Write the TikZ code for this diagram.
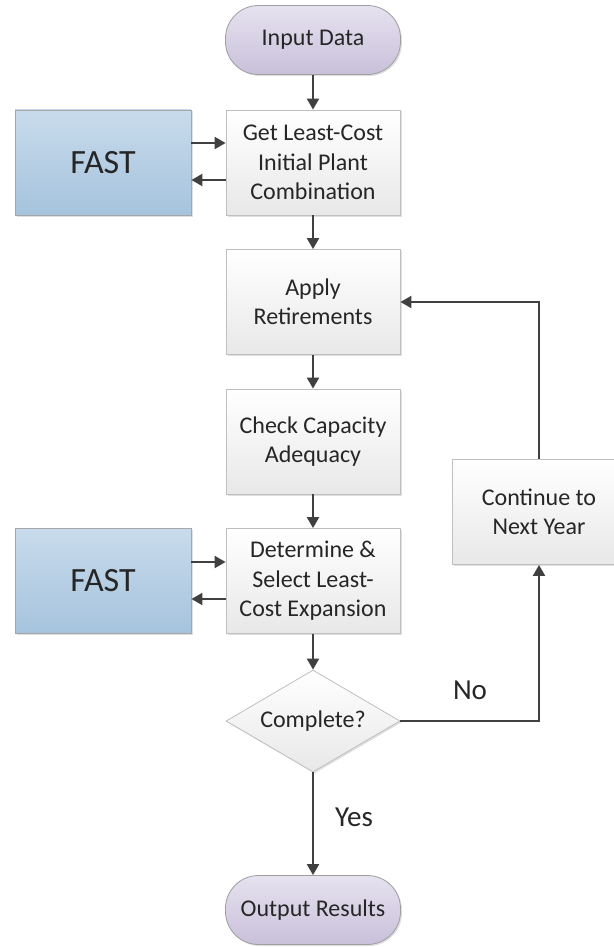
\documentclass[tikz,border=0pt]{standalone}
\usepackage{fontspec}
\setmainfont{Carlito}
\usetikzlibrary{shapes.geometric,arrows.meta,shadows}
\definecolor{txt}{HTML}{262626}
\definecolor{arrc}{HTML}{404040}
\begin{document}
\begin{tikzpicture}[x=1pt,y=-1pt,
  every node/.style={text=txt},
  sh/.style={drop shadow={shadow xshift=1.5pt,shadow yshift=-1.5pt,opacity=0.25,fill=gray}},
  term/.style={draw=black!38,line width=0.8pt,rounded corners=33pt,sh,
    top color=HTMLte,bottom color=HTMLtb,minimum width=175pt,minimum height=69pt,
    font=\fontsize{24}{29.5}\selectfont},
  proc/.style={draw=black!25,line width=0.8pt,sh,top color=white,bottom color=black!9,
    minimum width=174pt,minimum height=105pt,align=center,inner sep=0pt,
    font=\fontsize{24}{29.5}\selectfont},
  fastbox/.style={draw=black!35,line width=0.8pt,sh,top color=HTMLfa,bottom color=HTMLfb,
    minimum width=176pt,minimum height=105pt,font=\fontsize{34}{40}\selectfont},
  dec/.style={shape=diamond,draw=black!25,line width=0.8pt,sh,top color=white,bottom color=black!9,
    aspect=1.7,minimum width=174pt,minimum height=102pt,inner sep=0pt,
    font=\fontsize{24}{29.5}\selectfont},
  arr/.style={draw=arrc,line width=2pt,-{Triangle[length=11pt,width=12pt]}},
  lab/.style={font=\fontsize{29}{34}\selectfont}
]
\definecolor{HTMLte}{HTML}{E6E2EF}
\definecolor{HTMLtb}{HTML}{C9C0DB}
\definecolor{HTMLfa}{HTML}{C8DBEC}
\definecolor{HTMLfb}{HTML}{A6C3DD}
\useasboundingbox (0,0) rectangle (613,947);
\node[term] (in) at (313,40) {Input Data};
\node[proc] (get) at (313,162.5) {Get Least-Cost\\Initial Plant\\Combination};
\node[fastbox] (fast1) at (103,162.5) {FAST};
\node[proc] (apply) at (313,302) {Apply\\Retirements};
\node[proc] (check) at (313,441.5) {Check Capacity\\Adequacy};
\node[proc] (det) at (313,581) {Determine \&\\Select Least-\\Cost Expansion};
\node[fastbox] (fast2) at (103,581) {FAST};
\node[dec] (dia) at (313,721) {Complete?};
\node[proc] (cont) at (539,512) {Continue to\\Next Year};
\node[term] (out) at (313,910) {Output Results};
\node[lab] (no) at (470,690) {No};
\node[lab] (yes) at (354,817) {Yes};
\draw[arr] (in) -- (get);
\draw[arr] ([yshift=19.5pt]fast1.east) -- ([yshift=19.5pt]get.west);
\draw[arr] ([yshift=-17.5pt]get.west) -- ([yshift=-17.5pt]fast1.east);
\draw[arr] (get) -- (apply);
\draw[arr] (apply) -- (check);
\draw[arr] (check) -- (det);
\draw[arr] ([yshift=19pt]fast2.east) -- ([yshift=19pt]det.west);
\draw[arr] ([yshift=-18pt]det.west) -- ([yshift=-18pt]fast2.east);
\draw[arr] (det) -- (dia);
\draw[arr] (dia.east) -| (cont.south);
\draw[arr] (cont.north) |- (apply.east);
\draw[arr] (dia.south) -- (out.north);
\end{tikzpicture}
\end{document}
